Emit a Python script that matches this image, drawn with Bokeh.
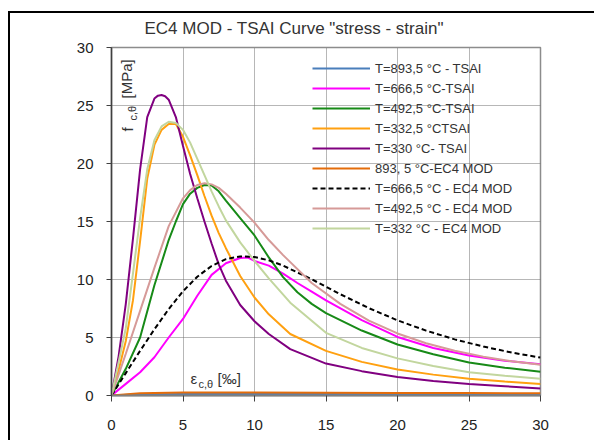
from bokeh.plotting import figure
from bokeh.models import Legend, LegendItem, Label, FixedTicker, Range1d
from bokeh.embed import file_html
from bokeh.resources import INLINE

# ---------------- data ----------------
title_text = 'EC4 MOD - TSAI Curve "stress - strain"'

names = [
    "T=893,5 °C - TSAI",
    "T=666,5 °C-TSAI",
    "T=492,5 °C-TSAI",
    "T=332,5 °CTSAI",
    "T=330 °C- TSAI",
    "893, 5 °C-EC4 MOD",
    "T=666,5 °C - EC4 MOD",
    "T=492,5 °C - EC4 MOD",
    "T=332 °C - EC4 MOD",
]

x_893_tsai = [0, 2, 5, 10, 15, 20, 25, 30]
y_893_tsai = [0, 0.1, 0.12, 0.12, 0.12, 0.11, 0.1, 0.1]

x_666_tsai = [0, 1, 2, 3, 4, 5, 6, 7, 8, 9, 9.5, 10, 11, 12, 13, 14, 15, 17.5, 20, 22.5, 25, 27.5, 30]
y_666_tsai = [0, 1.0, 2.0, 3.3, 5.0, 6.6, 8.6, 10.4, 11.4, 11.85, 11.9, 11.6, 11.2, 10.5, 9.7, 8.95, 8.2, 6.5, 5.05, 4.1, 3.45, 3.0, 2.7]

x_492_tsai = [0, 1, 2, 3, 4, 4.5, 5, 5.5, 6, 6.5, 7, 7.5, 8, 9, 10, 11, 12, 13, 14, 15, 17.5, 20, 22.5, 25, 27.5, 30]
y_492_tsai = [0, 2.3, 5.0, 9.5, 13.4, 15.0, 16.5, 17.4, 17.9, 18.15, 18.1, 17.6, 16.8, 15.3, 13.8, 11.9, 10.2, 8.9, 7.9, 7.1, 5.6, 4.4, 3.55, 2.85, 2.4, 2.05]

x_3325_tsai = [0, 0.5, 1, 1.5, 2, 2.5, 3, 3.5, 4, 4.5, 5, 5.5, 6, 6.5, 7, 7.5, 8, 9, 10, 11, 12.5, 15, 17.5, 20, 22.5, 25, 27.5, 30]
y_3325_tsai = [0, 2.2, 4.7, 8.2, 13.3, 18.7, 21.6, 22.9, 23.4, 23.4, 22.3, 20.7, 19.0, 17.2, 15.5, 14.0, 12.7, 10.3, 8.45, 7.0, 5.3, 3.85, 2.9, 2.25, 1.8, 1.45, 1.2, 1.0]

x_330_tsai = [0, 0.5, 1, 1.5, 2, 2.5, 3, 3.25, 3.5, 3.75, 4, 4.5, 5, 5.5, 6, 6.5, 7, 7.5, 8, 9, 10, 11, 12.5, 15, 17.5, 20, 22.5, 25, 27.5, 30]
y_330_tsai = [0, 3.4, 7.9, 13.5, 19.5, 24.0, 25.6, 25.85, 25.9, 25.8, 25.5, 24.0, 21.5, 19.1, 17.0, 15.0, 13.1, 11.3, 9.9, 7.8, 6.4, 5.3, 4.0, 2.75, 2.1, 1.6, 1.25, 1.0, 0.8, 0.6]

x_893_ec4 = [0, 2, 5, 10, 15, 20, 25, 30]
y_893_ec4 = [0, 0.2, 0.25, 0.25, 0.24, 0.22, 0.21, 0.2]

x_666_ec4 = [0, 1, 2, 3, 4, 5, 6, 7, 8, 9, 10, 11, 12, 14, 16, 18, 20, 22, 24, 26, 28, 30]
y_666_ec4 = [0, 1.93, 3.85, 5.71, 7.45, 8.99, 10.24, 11.17, 11.75, 11.99, 11.94, 11.65, 11.2, 10.02, 8.73, 7.53, 6.48, 5.59, 4.84, 4.22, 3.70, 3.27]

x_492_ec4 = [0, 1, 2, 3, 4, 5, 5.5, 6, 6.5, 7, 7.5, 8, 9, 10, 11, 12, 14, 16, 18, 20, 22, 24, 26, 28, 30]
y_492_ec4 = [0, 3.6, 7.3, 11.0, 14.6, 17.0, 17.7, 18.15, 18.3, 18.2, 17.9, 17.4, 16.2, 14.9, 13.4, 12.1, 9.7, 7.9, 6.45, 5.35, 4.5, 3.85, 3.35, 2.95, 2.65]

x_332_ec4 = [0, 0.5, 1, 1.5, 2, 2.5, 3, 3.5, 4, 4.5, 5, 5.5, 6, 6.5, 7, 7.5, 8, 9, 10, 11, 12.5, 15, 17.5, 20, 22.5, 25, 27.5, 30]
y_332_ec4 = [0, 2.9, 5.8, 10.5, 15.3, 19.5, 22.0, 23.2, 23.6, 23.5, 22.9, 21.8, 20.4, 19.0, 17.6, 16.3, 15.1, 13.2, 11.6, 10.1, 8.0, 5.4, 4.1, 3.2, 2.55, 2.0, 1.7, 1.45]

x_ticks = [0, 5, 10, 15, 20, 25, 30]
y_ticks = [0, 5, 10, 15, 20, 25, 30]

series = [
    (x_893_tsai, y_893_tsai, "#4A7EBB", "solid"),
    (x_666_tsai, y_666_tsai, "#FF00FF", "solid"),
    (x_492_tsai, y_492_tsai, "#178A17", "solid"),
    (x_3325_tsai, y_3325_tsai, "#FFA010", "solid"),
    (x_330_tsai, y_330_tsai, "#800080", "solid"),
    (x_893_ec4, y_893_ec4, "#E46C0A", "solid"),
    (x_666_ec4, y_666_ec4, "#000000", "5 3"),
    (x_492_ec4, y_492_ec4, "#D69A98", "solid"),
    (x_332_ec4, y_332_ec4, "#C2D69E", "solid"),
]

FONT = "Liberation Sans"

p = figure(width=594, height=440, output_backend="svg", toolbar_location=None,
           x_range=Range1d(0, 30), y_range=Range1d(0, 30),
           min_border_left=111, min_border_right=54, min_border_top=47, min_border_bottom=45,
           title=title_text)
p.border_fill_color = None
p.background_fill_color = "white"
p.styles = {
    "background": "linear-gradient(#000, #000) 8px 11px / 2px 100% no-repeat, "
                  "linear-gradient(#000, #000) 8px 11px / 100% 2px no-repeat"
}
p.outline_line_color = "#8C8C8C"
p.outline_line_width = 1.5

p.title.text_font = FONT
p.title.text_font_size = "17px"
p.title.text_font_style = "normal"
p.title.text_color = "#333333"
p.title.align = "left"
p.title.offset = 33
p.title.standoff = 19

for ax in (p.xaxis[0], p.yaxis[0]):
    ax.major_label_text_font = FONT
    ax.major_label_text_font_size = "15px"
    ax.major_label_text_color = "#222222"
    ax.minor_tick_line_color = None
    ax.major_tick_in = 0
p.xaxis.ticker = FixedTicker(ticks=x_ticks)
p.yaxis.ticker = FixedTicker(ticks=y_ticks)
p.xaxis.major_tick_out = 6
p.yaxis.major_tick_out = 5
p.xaxis.major_label_standoff = 18
p.yaxis.major_label_standoff = 13
p.xaxis.axis_line_color = "#808080"
p.xaxis.axis_line_width = 2
p.xaxis.major_tick_line_color = "#404040"
p.yaxis.axis_line_color = "#404040"
p.yaxis.axis_line_width = 1.5
p.yaxis.major_tick_line_color = "#404040"

p.grid.grid_line_color = "#6E6E6E"
p.grid.grid_line_dash = "1 1"
p.grid.grid_line_width = 1

items = []
for (xs, ys, col, dash), name in zip(series, names):
    r = p.line(xs, ys, line_color=col, line_width=2, line_dash=dash)
    items.append(LegendItem(label=name, renderers=[r]))

legend = Legend(items=items, location=(201, 157))
legend.label_text_font = FONT
legend.label_text_font_size = "13px"
legend.label_text_color = "#333333"
legend.glyph_width = 58
legend.glyph_height = 20
legend.label_height = 20
legend.label_standoff = 5
legend.spacing = 0
legend.padding = 0
legend.margin = 0
legend.border_line_color = None
legend.background_fill_alpha = 0
p.add_layout(legend)

lab_kw = dict(x=0, y=0, x_units="data", y_units="data", text_font=FONT, text_color="#333333")
# y-axis label inside the plot, rotated
p.add_layout(Label(text="f", angle=1.5708, x_offset=24, y_offset=264, text_font_size="15px", **lab_kw))
p.add_layout(Label(text="c,θ", angle=1.5708, x_offset=27, y_offset=275, text_font_size="11px", **lab_kw))
p.add_layout(Label(text="[MPa]", angle=1.5708, x_offset=24, y_offset=297, text_font_size="15px", **lab_kw))
# x-axis label inside the plot
p.add_layout(Label(text="ε", x_offset=79, y_offset=9, text_font_size="15px", **lab_kw))
p.add_layout(Label(text="c,θ", x_offset=87, y_offset=6, text_font_size="11px", **lab_kw))
p.add_layout(Label(text="[‰]", x_offset=106, y_offset=9, text_font_size="15px", **lab_kw))

open("out.html", "w").write(file_html(p, INLINE))
